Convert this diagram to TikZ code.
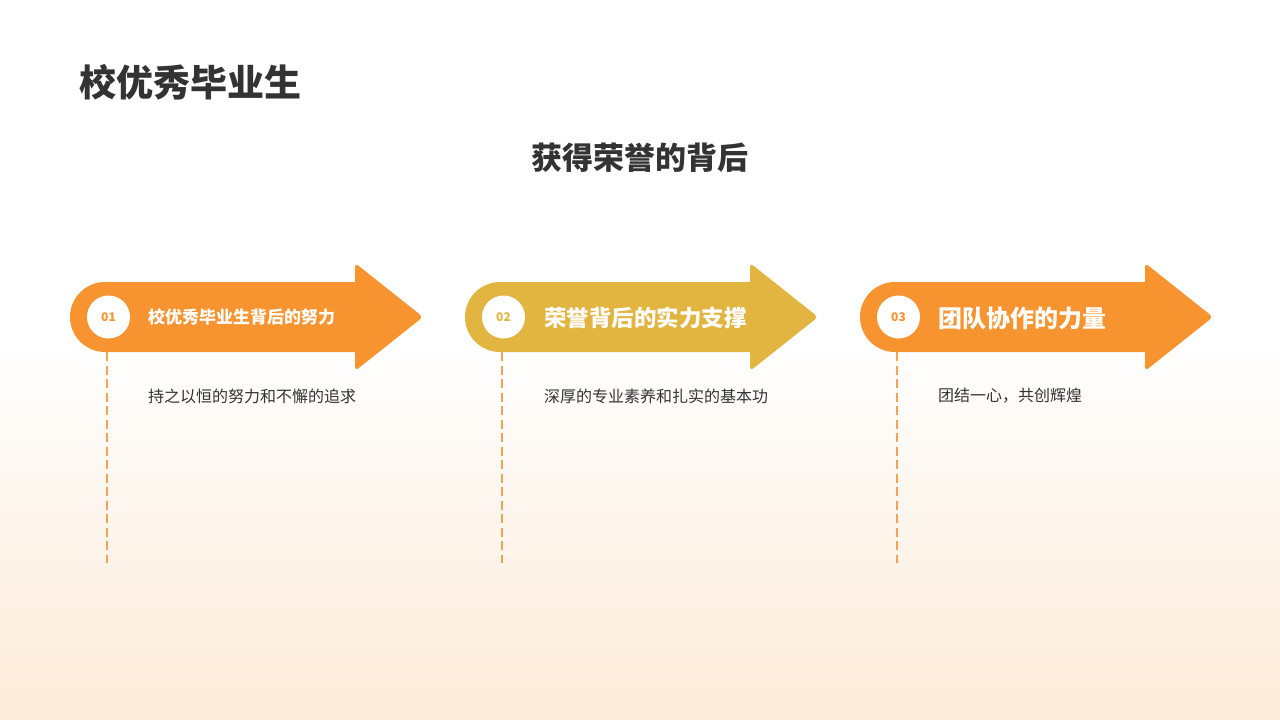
\documentclass[tikz,border=0pt]{standalone}
\usepackage{fontspec}
\setmainfont{Noto Sans CJK SC}
\definecolor{orangeA}{RGB}{248,148,48}
\definecolor{goldA}{RGB}{226,181,64}
\definecolor{peach}{RGB}{253,235,217}
\definecolor{dashc}{RGB}{240,165,85}
\definecolor{txt}{RGB}{51,51,51}
\tikzset{
  numcircle/.style={circle, fill=white, minimum size=43pt, inner sep=0pt, font=\bfseries\fontsize{12}{12}\selectfont},
  labeltext/.style={anchor=west, text=white, inner sep=0pt, font=\bfseries},
  desctext/.style={anchor=west, text=txt, inner sep=0pt, font=\fontsize{16}{16}\selectfont},
  guide/.style={draw=dashc, line width=2pt, dash pattern=on 9pt off 4.5pt}
}
\begin{document}
\begin{tikzpicture}[x=1pt,y=-1pt]
\useasboundingbox (0,0) rectangle (1280,720);
\fill[white] (0,0) rectangle (1280,720);
\shade[top color=white, bottom color=peach] (0,340) rectangle (1280,720);

\node[anchor=west, text=txt, inner sep=0pt, font=\bfseries\fontsize{37}{37}\selectfont] (title) at (79,82) {校优秀毕业生};
\node[text=txt, inner sep=0pt, font=\bfseries\fontsize{31}{31}\selectfont] (subtitle) at (640,158) {获得荣誉的背后};

% arrows
\foreach \dx/\col in {0/orangeA, 395/goldA, 790/orangeA}{
  \begin{scope}[xshift=\dx]
  \fill[\col] (300,282) [rounded corners=35] -- (70,282) -- (70,352) [sharp corners] -- (355,352)
    [rounded corners=4] -- (355,371) -- (423,317) -- (355,263) [sharp corners] -- (355,282) -- cycle;
  \end{scope}
}

\node[numcircle, text=orangeA] (c1) at (108.5,317) {01};
\node[numcircle, text=goldA] (c2) at (503.5,317) {02};
\node[numcircle, text=orangeA] (c3) at (898.5,317) {03};

\node[labeltext, font=\bfseries\fontsize{17}{17}\selectfont] (l1) at (148,317) {校优秀毕业生背后的努力};
\node[labeltext, font=\bfseries\fontsize{22.5}{22.5}\selectfont] (l2) at (544,318) {荣誉背后的实力支撑};
\node[labeltext, font=\bfseries\fontsize{24}{24}\selectfont] (l3) at (938,318) {团队协作的力量};

\coordinate (s1) at (106.5,352); \coordinate (e1) at (106.5,563);
\coordinate (s2) at (501.5,352); \coordinate (e2) at (501.5,563);
\coordinate (s3) at (896.5,352); \coordinate (e3) at (896.5,563);
\draw[guide] (s1) -- (e1);
\draw[guide] (s2) -- (e2);
\draw[guide] (s3) -- (e3);

\node[desctext] (d1) at (148,396) {持之以恒的努力和不懈的追求};
\node[desctext] (d2) at (544,396) {深厚的专业素养和扎实的基本功};
\node[desctext] (d3) at (938,396) {团结一心，共创辉煌};
\end{tikzpicture}
\end{document}
